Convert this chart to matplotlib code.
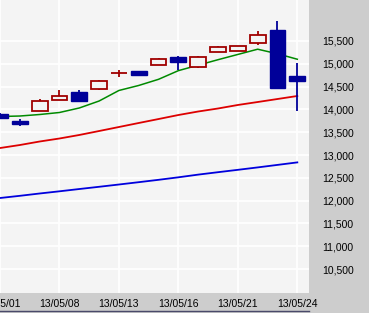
import matplotlib.pyplot as plt
from matplotlib.lines import Line2D
from matplotlib.patches import Rectangle

plt.rcParams['font.family'] = ['Liberation Sans', 'DejaVu Sans']

# trading days 2013/05/01 .. 2013/05/24
dates = ["13/05/01", "13/05/02", "13/05/07", "13/05/08", "13/05/09", "13/05/10",
         "13/05/13", "13/05/14", "13/05/15", "13/05/16", "13/05/17", "13/05/20",
         "13/05/21", "13/05/22", "13/05/23", "13/05/24"]
opens = [13900, 13745, 13965, 14206, 14380, 14450, 14790, 14840,
         14975, 15150, 14930, 15260, 15280, 15455, 15740, 14730]
highs = [13920, 13790, 14230, 14425, 14425, 14645, 14865, 14845,
         15130, 15170, 15170, 15390, 15395, 15720, 15940, 15020]
lows = [13780, 13640, 13960, 14200, 14180, 14425, 14710, 14730,
        14970, 14865, 14910, 15255, 15275, 15410, 14465, 13965]
closes = [13810, 13690, 14185, 14290, 14190, 14620, 14800, 14755,
          15100, 15040, 15150, 15370, 15390, 15630, 14470, 14625]

# moving averages (5 / 25 / 75 day)
ma5 = [13844, 13855, 13888, 13932, 14031, 14184, 14415, 14525,
       14660, 14850, 14970, 15090, 15205, 15320, 15220, 15100]
ma25 = [13153, 13219, 13296, 13362, 13439, 13526, 13614, 13702,
        13789, 13877, 13954, 14020, 14097, 14162, 14228, 14294]
ma75 = [12057, 12105, 12156, 12204, 12254, 12303, 12353, 12404,
        12456, 12511, 12570, 12623, 12675, 12728, 12783, 12838]

label_days = ["13/05/01", "13/05/08", "13/05/13", "13/05/16", "13/05/21", "13/05/24"]
yticks = [10500, 11000, 11500, 12000, 12500, 13000, 13500, 14000, 14500, 15000, 15500]

up_col = "#a00000"
down_col = "#000099"
bg = "#f4f4f4"

fig = plt.figure(figsize=(3.69, 3.13), dpi=100)
fig.patch.set_facecolor("#cdcdcd")
ax = fig.add_axes([0, 1 - 293 / 313, 309 / 369, 293 / 313])
ax.set_facecolor(bg)

x = list(range(len(dates)))
w = 0.8
for i in x:
    o, h, l, c = opens[i], highs[i], lows[i], closes[i]
    col = up_col if c >= o else down_col
    ax.plot([i, i], [l, h], color=col, lw=1.3, zorder=3, solid_capstyle="butt")
    bottom = min(o, c)
    height = max(abs(c - o), 8)
    if c >= o:
        ax.add_patch(Rectangle((i - w / 2, bottom), w, height, facecolor=bg,
                               edgecolor=col, lw=1.3, zorder=4))
    else:
        ax.add_patch(Rectangle((i - w / 2, bottom), w, height, facecolor=col,
                               edgecolor=col, lw=1.0, zorder=4))

ax.plot(x, ma5, color="#008a00", lw=1.1, zorder=2)
ax.plot(x, ma25, color="#dd0000", lw=1.3, zorder=2)
ax.plot(x, ma75, color="#0000dd", lw=1.3, zorder=2)

ax.set_xlim(0.36, 15.59)
ax.set_ylim(9974, 16399)

ax.set_yticks(yticks)
ax.set_yticklabels([f"{v:,}" for v in yticks])
ax.set_xticks([dates.index(d) for d in label_days])
ax.set_xticklabels(label_days)
ax.yaxis.tick_right()
ax.tick_params(axis="y", length=0, pad=9.4, labelsize=7.5)
ax.tick_params(axis="x", length=0, pad=4.5, labelsize=7.5)
ax.grid(True, color="white", lw=1.3, zorder=1)
ax.set_axisbelow(True)
for s in ax.spines.values():
    s.set_visible(False)

fig.add_artist(Line2D([0, 309 / 369], [0.006, 0.006], color="#4a4a6a", lw=1.0))

fig.savefig("out.png", dpi=100, facecolor=fig.get_facecolor())
